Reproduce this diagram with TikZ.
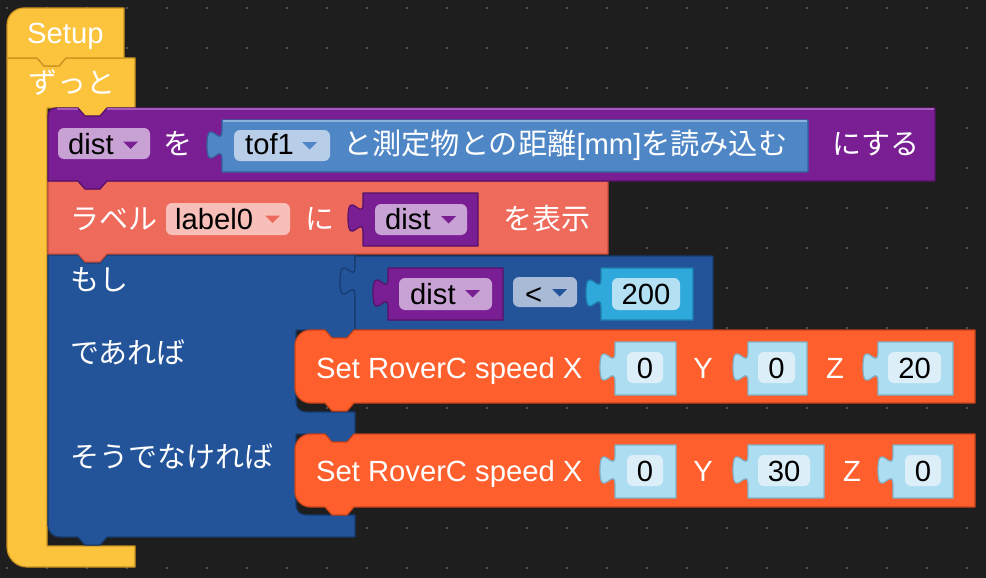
\documentclass[tikz,border=0pt]{standalone}
\usepackage{fontspec}
\setmainfont{Liberation Sans}
\newfontfamily\jp{Noto Sans CJK JP}
\definecolor{bg}{HTML}{1E1E1E}
\definecolor{dotc}{HTML}{4C4C4C}
\definecolor{yel}{HTML}{FCC33D}
\definecolor{yelD}{HTML}{C9921F}
\definecolor{pur}{HTML}{7A1E94}
\definecolor{purD}{HTML}{561168}
\definecolor{purL}{HTML}{A35CB9}
\definecolor{purF}{HTML}{C9A2D5}
\definecolor{tof}{HTML}{4F86C6}
\definecolor{tofD}{HTML}{34629A}
\definecolor{tofL}{HTML}{8DB1DD}
\definecolor{tofF}{HTML}{B7CDE8}
\definecolor{sal}{HTML}{EE6B5C}
\definecolor{salD}{HTML}{C24C3D}
\definecolor{salL}{HTML}{F5968A}
\definecolor{salF}{HTML}{F8BEB8}
\definecolor{ifb}{HTML}{235499}
\definecolor{ifbD}{HTML}{163B70}
\definecolor{ifbL}{HTML}{5B83BE}
\definecolor{cmpF}{HTML}{A9BAD6}
\definecolor{cyan}{HTML}{2FA8DC}
\definecolor{cyanD}{HTML}{1E7FAA}
\definecolor{cyanF}{HTML}{B3E0F3}
\definecolor{ora}{HTML}{FF5F2D}
\definecolor{oraD}{HTML}{C8431A}
\definecolor{oraL}{HTML}{FF8F6D}
\definecolor{inp}{HTML}{ADDDF1}
\definecolor{inpD}{HTML}{7FB2C8}
\definecolor{inpF}{HTML}{DCEFF9}
\newcommand\vblk[5]{\path[#1] (#2,#3) -- (#4,#3) -- (#4,#5) -- (#2,#5) -- (#2,{#3+40}) .. controls (#2,{#3+20}) and ({#2-15},{#3+56}) .. ({#2-15},{#3+25}) .. controls ({#2-15},{#3-6}) and (#2,{#3+30}) .. (#2,{#3+10}) -- cycle;}
\newcommand\fld[5]{\fill[#1,rounded corners=6] (#2,#3) rectangle (#4,#5);}
\newcommand\tri[3]{\fill[#3] (#1,#2) -- ({#1+15},#2) -- ({#1+7.5},{#2+7.5}) -- cycle;}
\begin{document}
\begin{tikzpicture}[x=1pt,y=-1pt,
  t/.style={text=white,font=\fontsize{29.2}{31}\selectfont,inner sep=0,anchor=base west},
  jt/.style={t,font=\fontsize{29}{31}\selectfont\jp},
  bt/.style={t,text=black},
  nb/.style={bt,anchor=base},
  wc/.style={t,anchor=base},
  blk/.style={line width=1.2,line join=round}]
\fill[bg] (0,0) rectangle (986,578);
\useasboundingbox (0,0) rectangle (986,578);
\foreach \i in {0,...,24} \foreach \j in {0,...,14}
  \fill[dotc] ({6+40*\i},{7+40*\j}) rectangle ++(2,2);

% ---- forever (C) block
\path[blk,fill=yel,draw=yelD] (7,58) -- (37,58) -- (44,66) -- (59,66) -- (66,58) -- (135,58) -- (135,108)
  -- (107,108) -- (100,116) -- (85,116) -- (78,108) -- (47,108) -- (47,546) -- (135,546) -- (135,567)
  -- (27,567) .. controls (16,567) and (7,558) .. (7,547) -- cycle;
% ---- Setup hat
\path[blk,fill=yel,draw=yelD] (7,58) -- (7,25) .. controls (7,15) and (15,8) .. (24,8) -- (124,8) -- (124,58)
  -- (66,58) -- (59,66) -- (44,66) -- (37,58) -- cycle;
\node[t] (tSetup) at (27,43.5) {Setup};
\node[jt] (tZutto) at (28,93) {ずっと};

% ---- if / else block
\path[blk,fill=ifb,draw=ifbD] (48,255) -- (78,255) -- (85,263) -- (100,263) -- (107,255) -- (355,255) -- (355,330)
  -- (354,330) -- (347,338) -- (332,338) -- (325,330) -- (296,330) -- (296,402) .. controls (296,408) and (300,412) .. (306,412)
  -- (355,412) -- (355,434) -- (354,434) -- (347,442) -- (332,442) -- (325,434) -- (296,434)
  -- (296,505) .. controls (296,511) and (300,515) .. (306,515) -- (355,515) -- (355,537)
  -- (107,537) -- (100,545) -- (85,545) -- (78,537) -- (60,537) .. controls (53,537) and (48,532) .. (48,525) -- cycle;
\node[jt] (tMoshi) at (70,290.5) {もし};
\node[jt] (tDeareba) at (70,363) {であれば};
\node[jt] (tElse) at (70,467) {そうでなければ};

% ---- compare block
\vblk{blk,fill=ifb,draw=ifbD}{355}{256}{713}{330}
\vblk{blk,fill=pur,draw=purD}{388}{268}{503}{320}
\fld{purF}{399}{278}{492}{310}
\node[bt] (tDist3) at (410,304) {dist};
\tri{465}{290}{pur}
\fld{cmpF}{513}{277}{577}{307}
\node[bt] (tLt) at (525,304) {<};
\tri{552}{289}{ifb}
\vblk{blk,fill=cyan,draw=cyanD}{601}{268}{693}{320}
\fld{cyanF}{612}{278}{680}{310}
\node[nb] (t200) at (646,304) {200};

% ---- RoverC blocks
\path[blk,fill=ora,draw=oraD] (295,345) .. controls (295,337) and (302,330) .. (310,330) -- (325,330) -- (332,338) -- (347,338) -- (354,330)
  -- (975,330) -- (975,403) -- (354,403) -- (347,411) -- (332,411) -- (325,403) -- (310,403)
  .. controls (302,403) and (295,396) .. (295,388) -- cycle;
\node[t] (tSet1) at (316,378) {Set RoverC speed X};
\vblk{blk,fill=inp,draw=inpD}{615}{342}{676}{395}
\fld{inpF}{627}{352}{663}{383}
\node[nb] (tX1) at (645,378) {0};
\node[wc] (tY1) at (703,378) {Y};
\vblk{blk,fill=inp,draw=inpD}{748}{342}{807}{395}
\fld{inpF}{758}{352}{795}{383}
\node[nb] (tY1v) at (776.5,378) {0};
\node[wc] (tZ1) at (835,378) {Z};
\vblk{blk,fill=inp,draw=inpD}{878}{342}{953}{395}
\fld{inpF}{888}{352}{941}{383}
\node[nb] (tZ1v) at (914.5,378) {20};

\path[blk,fill=ora,draw=oraD] (295,449) .. controls (295,441) and (302,434) .. (310,434) -- (325,434) -- (332,442) -- (347,442) -- (354,434)
  -- (975,434) -- (975,507) -- (354,507) -- (347,515) -- (332,515) -- (325,507) -- (310,507)
  .. controls (302,507) and (295,500) .. (295,492) -- cycle;
\node[t] (tSet2) at (316,481) {Set RoverC speed X};
\vblk{blk,fill=inp,draw=inpD}{615}{445}{676}{498}
\fld{inpF}{627}{455}{663}{486}
\node[nb] (tX2) at (645,481) {0};
\node[wc] (tY2) at (703,481) {Y};
\vblk{blk,fill=inp,draw=inpD}{748}{445}{824}{498}
\fld{inpF}{758}{455}{810}{486}
\node[nb] (tY2v) at (784,481) {30};
\node[wc] (tZ2) at (852,481) {Z};
\vblk{blk,fill=inp,draw=inpD}{893}{445}{953}{498}
\fld{inpF}{905}{455}{941}{486}
\node[nb] (tZ2v) at (923,481) {0};

% ---- label block
\path[blk,fill=sal,draw=salD] (48,181) -- (78,181) -- (85,189) -- (100,189) -- (107,181) -- (608,181) -- (608,254)
  -- (107,254) -- (100,262) -- (85,262) -- (78,254) -- (48,254) -- cycle;
\node[jt] (tLabel) at (70,229.5) {ラベル};
\fld{salF}{166}{203}{290}{235}
\node[bt] (tLabel0) at (175,229.5) {label0};
\tri{265}{215.5}{sal}
\node[jt] (tNi) at (305,229.5) {に};
\vblk{blk,fill=pur,draw=purD}{363}{193}{478}{246}
\fld{purF}{375}{204}{467}{235}
\node[bt] (tDist2) at (385,229.5) {dist};
\tri{441}{216}{pur}
\node[jt] (tShow) at (503,229.5) {を表示};

% ---- set variable block
\path[blk,fill=pur,draw=purD] (48,116) .. controls (48,111) and (51,108) .. (56,108) -- (78,108) -- (85,116) -- (100,116) -- (107,108)
  -- (935,108) -- (935,181) -- (107,181) -- (100,189) -- (85,189) -- (78,181) -- (48,181) -- cycle;
\draw[purL,line width=1.5] (57,109) -- (78,109) (107,109) -- (934,109);
\fld{purF}{58}{128}{150}{159}
\node[bt] (tDist1) at (68,154) {dist};
\tri{123}{141.5}{pur}
\node[jt] (tWo) at (163,154) {を};
\vblk{blk,fill=tof,draw=tofD}{222}{120}{808}{172}
\draw[tofL,line width=1.5] (223,121) -- (807,121);
\fld{tofF}{234}{130}{330}{161}
\node[bt] (tTof) at (245,154) {tof1};
\tri{302}{142}{tof}
\node[t] (tRead) at (343,154) {{\jp と測定物との距離}[mm]{\jp を読み込む}};
\node[jt] (tSuru) at (832,154) {にする};
\end{tikzpicture}
\end{document}
